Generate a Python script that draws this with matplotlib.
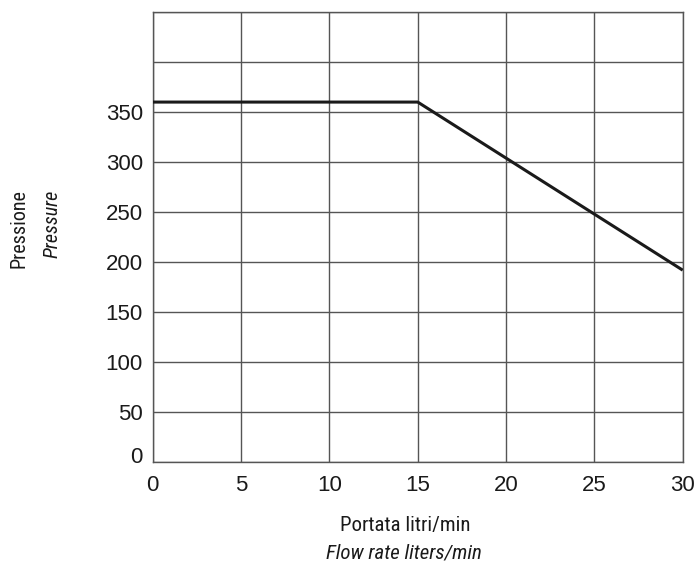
import matplotlib
matplotlib.use("Agg")
import matplotlib.pyplot as plt
from matplotlib import font_manager

# flow rate (l/min) vs pressure
flow = [0, 15, 30]
pressure = [360, 360, 192]
x_ticks = [0, 5, 10, 15, 20, 25, 30]
y_grid = [0, 50, 100, 150, 200, 250, 300, 350, 400, 450]
y_labels = ["", "50", "100", "150", "200", "250", "300", "350", "", ""]

installed = {f.name for f in font_manager.fontManager.ttflist}
label_font = "DejaVu Sans"
for name in ["Roboto Condensed", "Liberation Sans Narrow", "DejaVu Sans Condensed"]:
    if name in installed:
        label_font = name
        break
tick_font = "Liberation Sans" if "Liberation Sans" in installed else "DejaVu Sans"

fig = plt.figure(figsize=(6.97, 5.67), dpi=100)
ax = fig.add_axes([0.2191, 0.1847, 0.9795 - 0.2191, 0.9788 - 0.1847])

ax.plot(flow, pressure, color="#1a1a1a", linewidth=2.2, solid_capstyle="butt", zorder=3)

ax.set_xlim(0, 30)
ax.set_ylim(0, 450)
ax.set_xticks(x_ticks)
ax.set_yticks(y_grid)
ax.set_yticklabels(y_labels)
ax.grid(True, color="#555555", linewidth=1.0)
ax.tick_params(length=0, labelsize=16, colors="#1a1a1a", pad=9)
ax.tick_params(axis="y", pad=7)
for lbl in ax.get_xticklabels() + ax.get_yticklabels():
    lbl.set_fontfamily(tick_font)
for s in ax.spines.values():
    s.set_color("#555555")
    s.set_linewidth(1.0)

# the "0" of the y axis sits a little above its line
ax.annotate("0", xy=(0, 0), xycoords=("axes fraction", "data"), xytext=(-7, 3.5),
            textcoords="offset points", ha="right", va="center",
            fontsize=16, family=tick_font, color="#1a1a1a")

fig.text(405 / 697, 1 - 525 / 567, "Portata litri/min", ha="center", va="center",
         fontsize=15, family=label_font, color="#1a1a1a")
fig.text(404 / 697, 1 - 553 / 567, "Flow rate liters/min", ha="center", va="center",
         fontsize=15, family=label_font, style="italic", color="#1a1a1a")
fig.text(19 / 697, 1 - 229 / 567, "Pressione", ha="center", va="center", rotation=90,
         fontsize=14.5, family=label_font, color="#1a1a1a")
fig.text(52 / 697, 1 - 224 / 567, "Pressure", ha="center", va="center", rotation=90,
         fontsize=14.5, family=label_font, style="italic", color="#1a1a1a")

fig.savefig("out.png", dpi=100)
